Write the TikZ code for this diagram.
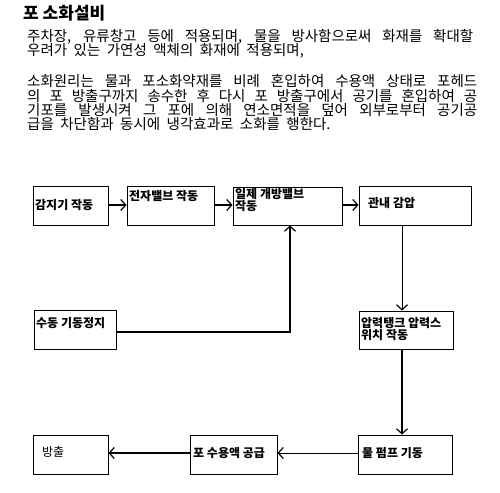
\documentclass[tikz,border=0pt]{standalone}
\usepackage{fontspec}
\setmainfont{Noto Sans CJK KR}
\usetikzlibrary{arrows.meta}
\newcommand{\bodyfnt}{\fontsize{14.5}{15}\selectfont\spaceskip=6.5pt plus 4pt minus 2pt\relax}
\tikzset{
  box/.style={draw, line width=0.9pt, inner sep=0pt},
  lbl/.style={anchor=west, inner sep=0pt, font=\fontsize{12}{13}\selectfont\bfseries},
  body/.style={anchor=base west, inner sep=0pt, font=\bodyfnt},
  thick2/.style={line width=2.2pt, -{Straight Barb[length=5pt,width=11pt,line width=1.2pt]}},
  thin1/.style={line width=1pt, -{Straight Barb[length=5pt,width=11pt,line width=1.2pt]}},
}
\newcommand{\mybox}[5]{\node[box, minimum width=#4-#2, minimum height=#5-#3] (#1) at ({(#2+#4)/2},{(#3+#5)/2}) {};}
\newcommand{\jline}[2]{\hbox to #1{\bodyfnt #2}}
\begin{document}
\begin{tikzpicture}[x=1pt,y=-1pt]
\useasboundingbox (0,0) rectangle (500,492);
% title and text
\node[anchor=base west, inner sep=0pt, font=\fontsize{17}{17}\selectfont\bfseries] (title) at (23,19.5) {포 소화설비};
\node[body] (t1) at (27,42) {\jline{446pt}{주차장, 유류창고 등에 적용되며, 물을 방사함으로써 화재를 확대할}};
\node[body] (t2) at (27,56) {우려가 있는 가연성 액체의 화재에 적용되며,};
\node[body] (t3) at (27,87) {\jline{450pt}{소화원리는 물과 포소화약재를 비례 혼입하여 수용액 상태로 포헤드}};
\node[body] (t4) at (27,101.3) {\jline{450pt}{의 포 방출구까지 송수한 후 다시 포 방출구에서 공기를 혼입하여 공}};
\node[body] (t5) at (27,115.6) {\jline{450pt}{기포를 발생시켜 그 포에 의해 연소면적을 덮어 외부로부터 공기공}};
\node[body] (t6) at (27,129.9) {급을 차단함과 동시에 냉각효과로 소화를 행한다.};
% boxes
\mybox{A}{33}{186}{108}{225}
\mybox{B}{127}{186}{214}{225}
\mybox{C}{233}{187}{342}{225}
\mybox{D}{359}{186}{471}{225}
\mybox{E}{34}{310}{116}{349}
\mybox{F}{359}{311}{453}{349}
\mybox{G}{33}{435}{108}{474}
\mybox{H}{190}{435}{277}{474}
\mybox{I}{358}{435}{452}{474}
% labels
\node[lbl] (lA) at (35,205) {감지기 작동};
\node[lbl] (lB) at (129,196.5) {전자밸브 작동};
\node[lbl] (lC1) at (235,194.5) {일제 개방밸브};
\node[lbl] (lC2) at (235,206.5) {작동};
\node[lbl] (lD) at (368,203) {관내 감압};
\node[lbl] (lE) at (36,323.5) {수동 기동정지};
\node[lbl] (lF1) at (361,323.5) {압력탱크 압력스};
\node[lbl] (lF2) at (361,335) {위치 작동};
\node[lbl, font=\fontsize{12}{13}\selectfont] (lG) at (42,452) {방출};
\node[lbl] (lH) at (193,453.5) {포 수용액 공급};
\node[lbl] (lI) at (362,453.5) {물 펌프 기동};
% connectors
\draw[thick2] (A.east |- 0,205) -- (B.west |- 0,205);
\draw[thick2] (B.east |- 0,205) -- (C.west |- 0,205);
\draw[thick2] (C.east |- 0,205) -- (D.west |- 0,205);
\draw[thick2] (E.east |- 0,332) -- (290,332) -- (C.south -| 290,0);
\draw[thin1] (D.south -| 402,0) -- (F.north -| 402,0);
\draw[thick2] (F.south -| 402,0) -- (I.north -| 402,0);
\draw[thin1] (I.west |- 0,453) -- (H.east |- 0,453);
\draw[thick2] (H.west |- 0,453) -- (G.east |- 0,453);
\end{tikzpicture}
\end{document}
